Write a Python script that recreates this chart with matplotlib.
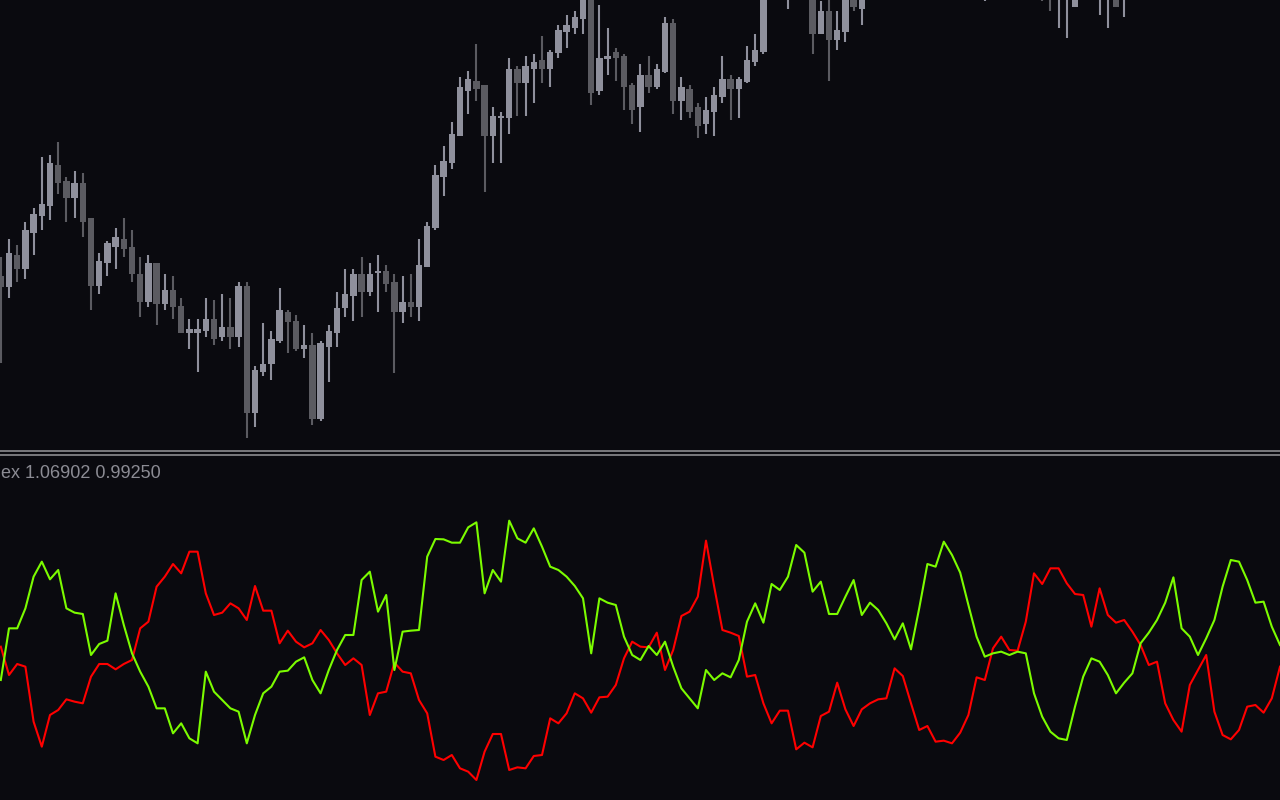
"""
Candlestick chart (top) with a two-line index oscillator (bottom), dark terminal style.
"""
import numpy as np
import matplotlib.pyplot as plt

# ---- price candles (prices in pips, /1e4 below); bars that sit above the window are left out
bar = list(range(-1, 93)) + [95, 98, 99, 100, 101, 102, 103, 104,
                             119, 126, 127, 128, 129, 130, 133, 134, 135, 136]
opens = [10674, 10663, 10695, 10681, 10717, 10734, 10744, 10785, 10769, 10752, 10767, 10732,
         10664, 10687, 10703, 10711, 10703, 10676, 10648, 10687, 10646, 10660, 10644, 10617,
         10617, 10619, 10631, 10613, 10623, 10613, 10664, 10537, 10578, 10586, 10609, 10638,
         10629, 10601, 10605, 10531, 10603, 10617, 10642, 10654, 10676, 10658, 10677, 10679,
         10668, 10638, 10648, 10643, 10683, 10722, 10773, 10787, 10814, 10859, 10869, 10865,
         10814, 10832, 10832, 10881, 10867, 10881, 10890, 10881, 10897, 10918, 10922, 10931,
         10956, 10859, 10891, 10898, 10894, 10865, 10843, 10875, 10863, 10878, 10927, 10849,
         10861, 10843, 10826, 10838, 10853, 10871, 10861, 10868, 10888, 10898,
         10955, 10960, 10916, 10939, 10910, 10918, 10960, 10941,
         10958, 10970, 10970, 10955, 10955, 10943, 10955, 10955, 10960, 10955]
highs = [10693, 10711, 10705, 10728, 10742, 10793, 10795, 10808, 10773, 10779, 10777, 10732,
         10697, 10709, 10722, 10732, 10720, 10693, 10695, 10687, 10676, 10674, 10652, 10631,
         10631, 10652, 10650, 10656, 10652, 10668, 10668, 10584, 10627, 10619, 10662, 10640,
         10635, 10625, 10617, 10609, 10625, 10658, 10681, 10681, 10693, 10687, 10695, 10685,
         10676, 10674, 10676, 10711, 10728, 10785, 10804, 10828, 10873, 10879, 10906, 10865,
         10843, 10838, 10892, 10884, 10894, 10896, 10914, 10900, 10925, 10935, 10939, 10962,
         10962, 10945, 10922, 10902, 10896, 10867, 10886, 10894, 10886, 10933, 10931, 10873,
         10865, 10847, 10853, 10863, 10894, 10875, 10873, 10904, 10916, 10970,
         10975, 10970, 10949, 10955, 10939, 10965, 10970, 10970,
         10980, 10980, 10980, 10980, 10980, 10970, 10980, 10980, 10970, 10980]
lows = [10587, 10652, 10668, 10671, 10695, 10720, 10730, 10756, 10728, 10732, 10713, 10640,
        10656, 10674, 10681, 10693, 10668, 10633, 10643, 10625, 10640, 10631, 10617, 10601,
        10578, 10613, 10605, 10609, 10601, 10603, 10512, 10523, 10574, 10570, 10607, 10597,
        10599, 10592, 10525, 10529, 10568, 10603, 10633, 10629, 10633, 10654, 10638, 10658,
        10577, 10627, 10633, 10629, 10683, 10720, 10754, 10781, 10814, 10836, 10849, 10758,
        10787, 10787, 10816, 10834, 10834, 10847, 10867, 10863, 10892, 10902, 10916, 10916,
        10845, 10855, 10875, 10869, 10840, 10826, 10818, 10857, 10861, 10877, 10836, 10830,
        10832, 10812, 10816, 10814, 10847, 10830, 10832, 10867, 10884, 10896,
        10941, 10896, 10916, 10869, 10900, 10908, 10939, 10925,
        10949, 10949, 10939, 10922, 10912, 10943, 10935, 10922, 10943, 10933]
closes = [10663, 10697, 10681, 10720, 10736, 10746, 10787, 10767, 10752, 10767, 10728, 10664,
          10689, 10707, 10713, 10701, 10676, 10648, 10687, 10646, 10660, 10643, 10617, 10621,
          10621, 10631, 10611, 10623, 10613, 10664, 10537, 10580, 10586, 10611, 10640, 10628,
          10601, 10605, 10531, 10607, 10619, 10642, 10656, 10676, 10658, 10676, 10679, 10666,
          10638, 10648, 10643, 10685, 10724, 10775, 10789, 10816, 10863, 10871, 10861, 10814,
          10834, 10834, 10881, 10867, 10884, 10888, 10881, 10898, 10920, 10925, 10933, 10956,
          10857, 10892, 10894, 10892, 10863, 10840, 10875, 10863, 10881, 10927, 10849, 10863,
          10838, 10824, 10840, 10855, 10871, 10861, 10871, 10890, 10900, 10960,
          10965, 10916, 10939, 10910, 10920, 10955, 10943, 10960,
          10970, 10958, 10955, 10970, 10970, 10960, 10970, 10970, 10943, 10970]

# ---- oscillator lines, one value per bar from -1 to 155
osc_bar = list(range(-1, 156))
green_line = [360, 515, 515, 575, 670, 715, 662, 690, 575, 562, 558, 435, 468, 478, 620, 525,
              440, 385, 340, 275, 275, 200, 230, 185, 170, 385, 325, 300, 275, 265, 170, 255,
              320, 340, 385, 388, 415, 428, 360, 320, 390, 450, 495, 495, 660, 685, 565, 615,
              390, 505, 508, 510, 730, 783, 782, 772, 772, 818, 833, 620, 690, 655, 838, 785,
              772, 815, 760, 700, 690, 670, 642, 605, 440, 605, 592, 585, 490, 435, 420, 462,
              435, 475, 400, 335, 305, 275, 390, 360, 380, 368, 420, 535, 590, 532, 648, 630,
              670, 765, 742, 625, 655, 558, 558, 610, 660, 555, 592, 570, 530, 482, 530, 452,
              575, 708, 700, 775, 735, 682, 585, 490, 430, 440, 445, 435, 445, 440, 320, 250,
              205, 185, 180, 280, 370, 425, 415, 375, 320, 352, 380, 470, 502, 540, 592, 668,
              515, 490, 435, 485, 540, 640, 720, 715, 660, 592, 595, 520, 465]
red_line = [460, 375, 408, 400, 235, 160, 255, 270, 302, 295, 290, 370, 408, 408, 392, 408,
            420, 515, 535, 640, 670, 708, 680, 745, 745, 620, 555, 562, 590, 575, 540, 642,
            568, 568, 470, 508, 475, 458, 470, 510, 480, 440, 405, 425, 405, 255, 320, 325,
            412, 385, 380, 300, 260, 130, 120, 135, 95, 85, 60, 145, 198, 198, 90, 98,
            95, 132, 135, 245, 230, 260, 320, 305, 262, 308, 310, 345, 425, 475, 460, 458,
            502, 390, 450, 552, 565, 610, 778, 640, 510, 502, 492, 370, 375, 290, 230, 268,
            268, 152, 172, 158, 252, 265, 352, 272, 222, 272, 290, 302, 305, 395, 372, 290,
            210, 222, 175, 178, 170, 202, 255, 368, 360, 455, 490, 450, 448, 535, 680, 648,
            695, 695, 650, 618, 615, 520, 635, 555, 532, 540, 505, 465, 405, 415, 290, 240,
            205, 345, 390, 435, 265, 195, 182, 210, 280, 285, 262, 305, 400]

label_text = 'ex 1.06902 0.99250'

BG = '#0a0a0f'
BULL = '#8f909c'
BEAR = '#5b5b61'
SEP = '#8c8c90'

W, H = 1280, 800
fig = plt.figure(figsize=(W / 100, H / 100), dpi=100, facecolor=BG)

# price window: pixel rows 0..451
ax = fig.add_axes([0, 1 - 451 / H, 1, 451 / H], facecolor=BG)
# oscillator window: pixel rows 455..800
ax2 = fig.add_axes([0, 0, 1, 345 / H], facecolor=BG)

o = np.array(opens) / 1e4
hi = np.array(highs) / 1e4
lo = np.array(lows) / 1e4
c = np.array(closes) / 1e4
x = np.array(bar)
up = c >= o
col = np.where(up, BULL, BEAR)

body_lo = np.minimum(o, c)
body_h = np.maximum(np.abs(c - o), 0.00015)
ax.vlines(x, lo, hi, colors=col, linewidth=1.5)
ax.bar(x, body_h, bottom=body_lo, width=0.78, color=col, linewidth=0)

xlim = (-9 / 8.2, 1271 / 8.2)
ax.set_xlim(*xlim)
ax.set_ylim(1.0950 - 0.0451, 1.0950)

ax2.plot(osc_bar, red_line, color='#ff0000', linewidth=1.5)
ax2.plot(osc_bar, green_line, color='#7cfc00', linewidth=1.5)
ax2.set_xlim(*xlim)
ax2.set_ylim(0, 1035)

for a in (ax, ax2):
    a.set_xticks([])
    a.set_yticks([])
    for s in a.spines.values():
        s.set_visible(False)
ax.spines['bottom'].set_visible(True)
ax.spines['bottom'].set_color(SEP)
ax.spines['bottom'].set_linewidth(1.2)
ax2.spines['top'].set_visible(True)
ax2.spines['top'].set_color(SEP)
ax2.spines['top'].set_linewidth(1.2)

fig.text(1 / W, 1 - 473 / H, label_text, color='#8c8c94', fontsize=13,
         family=['Liberation Sans', 'DejaVu Sans'], ha='left', va='center')

fig.savefig('out.png', dpi=100, facecolor=BG)
